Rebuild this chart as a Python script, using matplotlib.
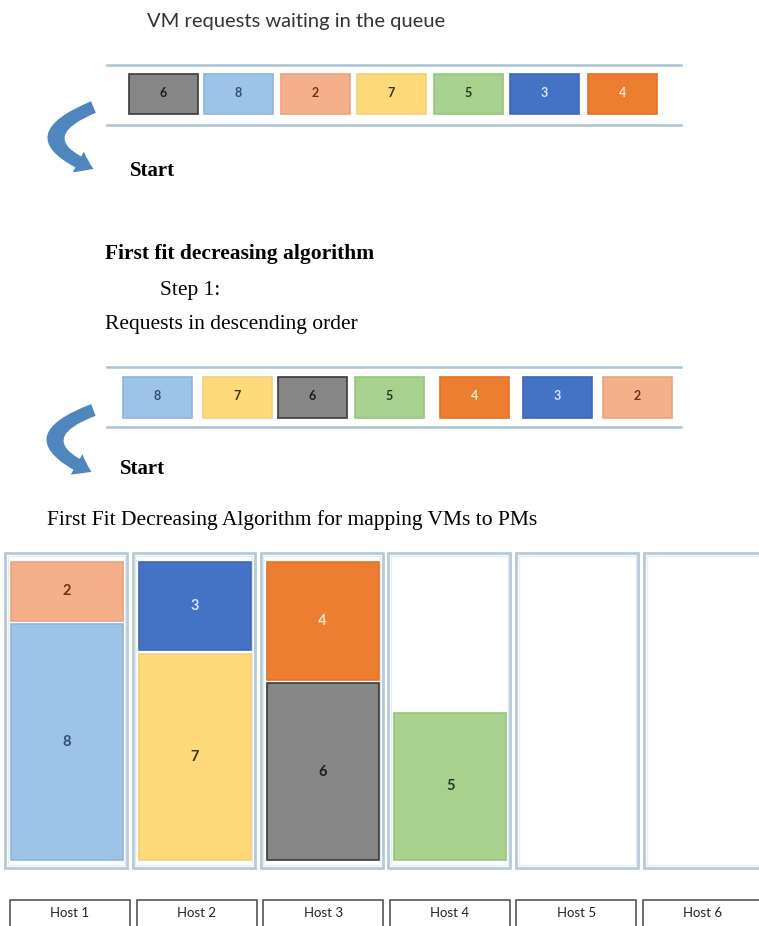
import matplotlib.pyplot as plt
from matplotlib.patches import Rectangle, FancyArrowPatch

# VM request sizes as they wait in the queue
queue_order = [6, 8, 2, 7, 5, 3, 4]
# after step 1 (descending)
desc_order = [8, 7, 6, 5, 4, 3, 2]
# first fit decreasing result, bottom to top in each host
hosts = ["Host 1", "Host 2", "Host 3", "Host 4", "Host 5", "Host 6"]
host_vms = [[8, 2], [7, 3], [6, 4], [5], [], []]

vm_color = {8: "#9dc3e6", 7: "#ffd97a", 6: "#868686", 5: "#a9d18e",
            4: "#ed7d31", 3: "#4472c4", 2: "#f4b08a"}
vm_edge = {8: "#8eb4d8", 7: "#f2cf78", 6: "#3a3a3a", 5: "#98c47e",
           4: "#e07328", 3: "#3d68b5", 2: "#eaa27e"}
vm_text = {8: "#2f4e7a", 7: "#3a3020", 6: "#1e1e1e", 5: "#1e3a1e",
           4: "#fde5cf", 3: "#dbe6f7", 2: "#6a3218"}

W, H = 759, 926
fig = plt.figure(figsize=(W / 100, H / 100), dpi=100)
ax = fig.add_axes([0, 0, 1, 1])
ax.set_xlim(0, W)
ax.set_ylim(H, 0)
ax.axis("off")

serif = "Liberation Serif"
sans = "Lato"
line_col = "#aac3d3"


def draw_queue(order, y_top, y_bot, box_x, box_y, box_h):
    ax.plot([107, 681], [y_top, y_top], color=line_col, lw=1.8)
    ax.plot([107, 681], [y_bot, y_bot], color=line_col, lw=1.8)
    for x0, v in zip(box_x, order):
        ax.add_patch(Rectangle((x0, box_y), 69, box_h, facecolor=vm_color[v],
                               edgecolor=vm_edge[v], lw=1.2))
        ax.text(x0 + 34.5, box_y + box_h / 2 - 1, str(v), ha="center", va="center",
                fontsize=9, fontweight="bold", family=sans, color=vm_text[v])


def draw_arrow(x0, y0, x1, y1):
    arr = FancyArrowPatch((x0, y0), (x1, y1), connectionstyle="arc3,rad=1.25",
                          arrowstyle="simple,head_width=17,head_length=12,tail_width=9",
                          color="#4f86bd", lw=0, mutation_scale=1)
    ax.add_patch(arr)


ax.text(147, 21, "VM requests waiting in the queue", family=sans, fontsize=14.5,
        color="#333333", va="center")
draw_queue(queue_order, 65, 125, [129, 204, 281, 357, 434, 510, 588], 74, 40)
draw_arrow(96, 106, 96, 170)
ax.text(130, 171, "Start", family=serif, fontsize=15, fontweight="bold", va="center")

ax.text(105, 254, "First fit decreasing algorithm", family=serif, fontsize=15.5,
        fontweight="bold", va="center")
ax.text(160, 291, "Step 1:", family=serif, fontsize=15.5, va="center")
ax.text(105, 325, "Requests in descending order", family=serif, fontsize=15.5,
        va="center")
draw_queue(desc_order, 367, 427, [123, 203, 278, 355, 440, 523, 603], 377, 41)
draw_arrow(96, 409, 94, 473)
ax.text(120, 469, "Start", family=serif, fontsize=15, fontweight="bold", va="center")

ax.text(47, 520, "First Fit Decreasing Algorithm for mapping VMs to PMs",
        family=serif, fontsize=15.5, va="center")

# hosts: y in VM size units
unit = 29.5
hax = fig.add_axes([0, 1 - 875 / H, 1, 325 / H])
hax.set_xlim(0, W)
hax.set_ylim(0, 325 / unit)
hax.axis("off")
pitch = 127.8
base = 0.5
for i, (name, vms) in enumerate(zip(hosts, host_vms)):
    fx = 5 + i * pitch
    hax.add_patch(Rectangle((fx, 0.24), 122, 10.68, facecolor="white",
                            edgecolor="#b7cad8", lw=2))
    hax.add_patch(Rectangle((fx + 2.5, 0.34), 117, 10.48, facecolor="none",
                            edgecolor="#e3ecf2", lw=1))
    bottom = base
    for v in vms:
        hax.bar(fx + 6, v, width=112, bottom=bottom, align="edge",
                color=vm_color[v], edgecolor=vm_edge[v], lw=1.2)
        hax.text(fx + 62, bottom + v / 2, str(v), ha="center", va="center",
                 fontsize=10.5, fontweight="bold", family=sans, color=vm_text[v])
        bottom += v + 0.12
    # label box
    lx = 10 + i * 126.6
    ax.add_patch(Rectangle((lx, 900), 120, 30, facecolor="white",
                           edgecolor="#555555", lw=1.2))
    ax.text(lx + 60, 913, name, ha="center", va="center", family=sans,
            fontsize=9.5, color="#222222")

fig.savefig("out.png", dpi=100)
